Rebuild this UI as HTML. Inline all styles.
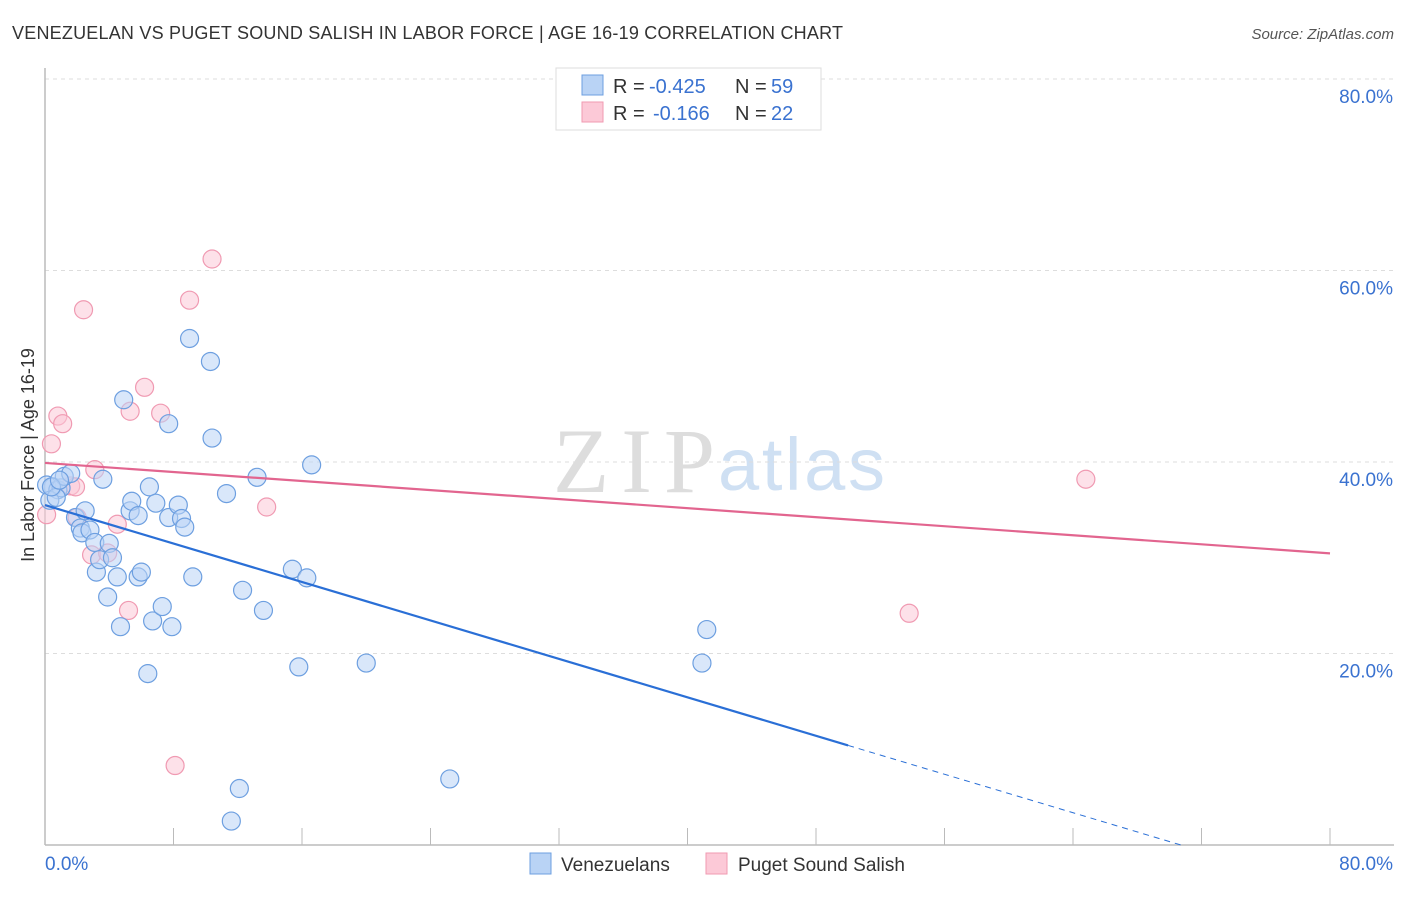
<!DOCTYPE html>
<html><head><meta charset="utf-8"><style>
body{margin:0;background:#fff;font-family:"Liberation Sans",sans-serif}
</style></head><body>
<svg id="chart" width="1406" height="892" xmlns="http://www.w3.org/2000/svg">
<text x="12" y="39" font-size="18" fill="#333" textLength="831">VENEZUELAN VS PUGET SOUND SALISH IN LABOR FORCE | AGE 16-19 CORRELATION CHART</text>
<text x="1394" y="39" font-size="15" fill="#555" font-style="italic" text-anchor="end">Source: ZipAtlas.com</text>
<text x="553" y="492" font-size="92" fill="#ddd" font-family="Liberation Serif,serif" textLength="162">ZIP</text>
<text x="718" y="490" font-size="74" fill="#cfe0f3" textLength="167">atlas</text>
<g id="grid"></g>
<g id="marks"></g>
<text transform="translate(34,455) rotate(-90)" font-size="18" fill="#333" text-anchor="middle">In Labor Force | Age 16-19</text>
<g>
<rect x="556" y="68" width="265" height="62" fill="#fff" stroke="#ddd"/>
<rect x="582" y="75" width="21" height="20" fill="#b9d3f5" stroke="#6d9fe0"/>
<rect x="582" y="102" width="21" height="20" fill="#fcc9d7" stroke="#f09ab2"/>
<text x="613" y="93" font-size="20" fill="#333">R =</text>
<text x="649" y="93" font-size="20" fill="#3a72d0">-0.425</text>
<text x="735" y="93" font-size="20" fill="#333">N =</text>
<text x="771" y="93" font-size="20" fill="#3a72d0">59</text>
<text x="613" y="120" font-size="20" fill="#333">R =</text>
<text x="653" y="120" font-size="20" fill="#3a72d0">-0.166</text>
<text x="735" y="120" font-size="20" fill="#333">N =</text>
<text x="771" y="120" font-size="20" fill="#3a72d0">22</text>
</g>
<g>
<rect x="530" y="853" width="21" height="21" fill="#b9d3f5" stroke="#6d9fe0"/>
<text x="561" y="871" font-size="19" fill="#333">Venezuelans</text>
<rect x="706" y="853" width="21" height="21" fill="#fcc9d7" stroke="#f09ab2"/>
<text x="738" y="871" font-size="19" fill="#333">Puget Sound Salish</text>
</g>
</svg>
<script>
const yTicks=[20,40,60,80];
const yTickLabels=["20.0%","40.0%","60.0%","80.0%"];
const xTicks=[0,8,16,24,32,40,48,56,64,72,80];
const blueX=[0.5,0.1,0.8,1.0,0.3,0.7,1.2,1.6,1.9,2.2,2.5,2.3,2.8,3.1,3.2,3.4,3.6,3.9,4.0,4.2,4.5,4.7,4.9,5.3,5.4,5.8,5.8,6.0,6.4,6.5,6.7,6.9,7.3,7.7,7.7,7.9,8.3,8.5,8.7,9.0,9.2,10.3,10.4,11.3,12.1,12.3,11.6,13.2,13.6,15.4,15.8,16.3,16.6,20.0,25.2,40.9,41.2,0.4,0.9];
const blueY=[37.4,37.6,37.1,37.3,36.0,36.3,38.5,38.8,34.2,33.1,34.9,32.6,32.9,31.6,28.5,29.8,38.2,25.9,31.5,30.0,28.0,22.8,46.5,34.9,35.9,34.4,28.0,28.5,17.9,37.4,23.4,35.7,24.9,34.2,44.0,22.8,35.5,34.1,33.2,52.9,28.0,50.5,42.5,36.7,5.9,26.6,2.5,38.4,24.5,28.8,18.6,27.9,39.7,19.0,6.9,19.0,22.5,37.4,38.1];
const pinkX=[0.1,0.4,0.8,1.1,1.6,1.9,2.0,2.4,3.1,2.9,3.9,4.5,5.2,5.3,6.2,7.2,8.1,9.0,10.4,13.8,64.8,53.8];
const pinkY=[34.5,41.9,44.8,44.0,37.5,37.4,34.2,55.9,39.2,30.3,30.5,33.5,24.5,45.3,47.8,45.1,8.3,56.9,61.2,35.3,38.2,24.2];
const blueFit=[35.5,-0.502], blueSolidEnd=50, pinkFit=[39.9,-0.118];
const NS="http://www.w3.org/2000/svg";
const X=v=>45+v*16.0625, Y=v=>845-v*9.575;
function mk(t,a,p){const e=document.createElementNS(NS,t);for(const k in a)e.setAttribute(k,a[k]);p.appendChild(e);return e;}
const grid=document.getElementById('grid'), marks=document.getElementById('marks');
yTicks.forEach((v,i)=>{
 const l=mk('line',{x1:45,x2:1394,y1:Y(v),y2:Y(v),stroke:'#ddd','stroke-dasharray':'4,4'},grid);
 
 
 const t=mk('text',{x:1393,y:Y(v)+24,'font-size':19,fill:'#3a72d0','text-anchor':'end'},grid);
 t.textContent=yTickLabels[i];
 
 
});
const ax=mk('line',{x1:45,x2:1394,y1:845,y2:845,stroke:'#bbb','stroke-width':1.5},grid);


const ay=mk('line',{x1:45,x2:45,y1:68,y2:845,stroke:'#bbb','stroke-width':1.5},grid);


xTicks.forEach(v=>{
 const t=mk('line',{x1:X(v),x2:X(v),y1:828,y2:845,stroke:'#bbb'},grid);
 
 
});
[[0,'start','0.0%',45],[80,'end','80.0%',1393]].forEach(a=>{
 const t=mk('text',{x:a[3],y:870,'font-size':19,fill:'#3a72d0','text-anchor':a[1]},grid);
 t.textContent=a[2];
 
 
});
function dots(xs,ys,fill,stroke,name){xs.forEach((x,i)=>{
 const c=mk('circle',{cx:X(x),cy:Y(ys[i]),r:9,fill:fill,'fill-opacity':0.55,stroke:stroke,'stroke-width':1.2},marks);
 
 
});}
dots(pinkX,pinkY,'#fcc9d7','#f09ab2','puget-sound-salish-point');
dots(blueX,blueY,'#b9d3f5','#6d9fe0','venezuelan-point');
const f=(p,x)=>p[0]+p[1]*x;
const bl=mk('line',{x1:X(0),y1:Y(f(blueFit,0)),x2:X(blueSolidEnd),y2:Y(f(blueFit,blueSolidEnd)),stroke:'#2a6fd6','stroke-width':2.2},marks);


const x0=-blueFit[0]/blueFit[1];
const bd=mk('line',{x1:X(blueSolidEnd),y1:Y(f(blueFit,blueSolidEnd)),x2:X(x0),y2:Y(0),stroke:'#2a6fd6','stroke-width':1,'stroke-dasharray':'6,5'},marks);


const pl=mk('line',{x1:X(0),y1:Y(f(pinkFit,0)),x2:X(80),y2:Y(f(pinkFit,80)),stroke:'#e2658f','stroke-width':2.2},marks);


</script>
</body></html>
